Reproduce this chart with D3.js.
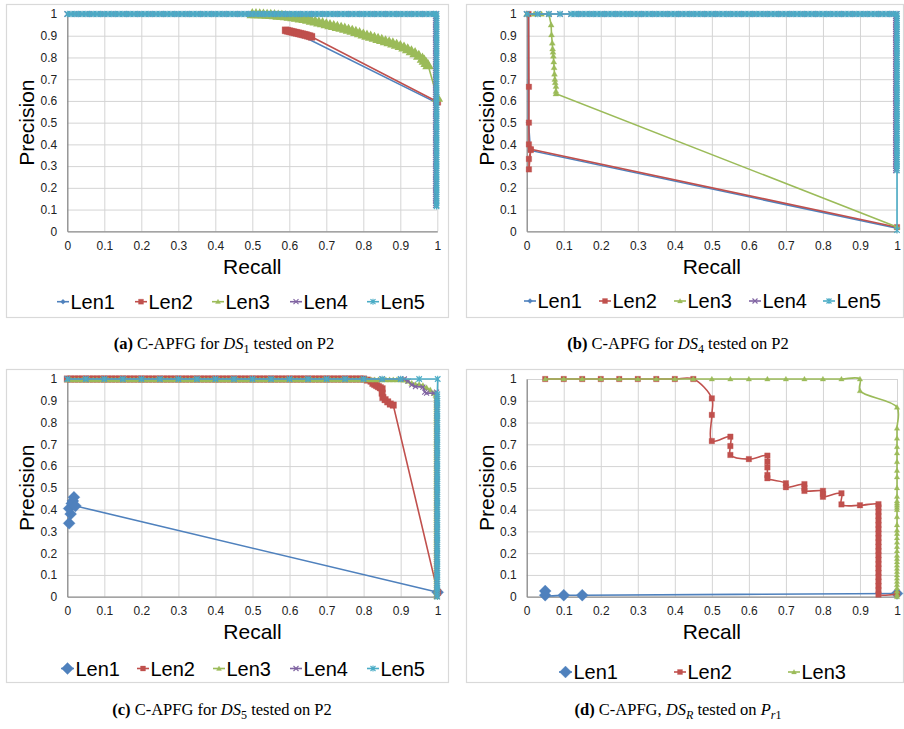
<!DOCTYPE html>
<html><head><meta charset="utf-8">
<script src="https://cdn.jsdelivr.net/npm/d3@7"></script>
<style>body{margin:0;background:#fff}svg{display:block}</style>
</head><body><svg id="c" width="904" height="729"></svg>
<script>
const seriesNames = ["Len1","Len2","Len3","Len4","Len5"];
const seriesColors = ["#4F81BD","#C0504D","#9BBB59","#8064A2","#4BACC6"];
const seriesMarkers = ["diamond","square","triangle","x","star"];
const axisTicks = [0,0.1,0.2,0.3,0.4,0.5,0.6,0.7,0.8,0.9,1];
const tickLabels = ["0","0.1","0.2","0.3","0.4","0.5","0.6","0.7","0.8","0.9","1"];

// recall positions of the dense marker rows at precision ~1
const rowRecall = [0,0.01,0.02,0.03,0.04,0.05,0.06,0.07,0.08,0.09,0.1,0.11,0.12,0.13,0.14,0.15,0.16,0.17,0.18,0.19,0.2,0.21,0.22,0.23,0.24,0.25,0.26,0.27,0.28,0.29,0.3,0.31,0.32,0.33,0.34,0.35,0.36,0.37,0.38,0.39,0.4,0.41,0.42,0.43,0.44,0.45,0.46,0.47,0.48,0.49,0.5,0.51,0.52,0.53,0.54,0.55,0.56,0.57,0.58,0.59,0.6,0.61,0.62,0.63,0.64,0.65,0.66,0.67,0.68,0.69,0.7,0.71,0.72,0.73,0.74,0.75,0.76,0.77,0.78,0.79,0.8,0.81,0.82,0.83,0.84,0.85,0.86,0.87,0.88,0.89,0.9,0.91,0.92,0.93,0.94,0.95,0.96,0.97,0.98,0.99];
// sparser row used where only a few markers show along the top
const rowRecallSparse = [0,0.05,0.1,0.15,0.2,0.25,0.3,0.35,0.4,0.45,0.5,0.55,0.6,0.65,0.7,0.75,0.8,0.85,0.9,0.95];
// precision positions of the dense marker columns at recall ~1
const edgePrec = [1,0.99,0.98,0.97,0.96,0.95,0.94,0.93,0.92,0.91,0.9,0.89,0.88,0.87,0.86,0.85,0.84,0.83,0.82,0.81,0.8,0.79,0.78,0.77,0.76,0.75,0.74,0.73,0.72,0.71,0.7,0.69,0.68,0.67,0.66,0.65,0.64,0.63,0.62,0.61,0.6,0.59,0.58,0.57,0.56,0.55,0.54,0.53,0.52,0.51,0.5,0.49,0.48,0.47,0.46,0.45,0.44,0.43,0.42,0.41,0.4,0.39,0.38,0.37,0.36,0.35,0.34,0.33,0.32,0.31,0.3,0.29,0.28,0.27,0.26,0.25,0.24,0.23,0.22,0.21,0.2,0.19,0.18,0.17,0.16,0.15,0.14,0.13,0.12,0.11,0.1,0.09,0.08,0.07,0.06,0.05,0.04,0.03,0.02,0.01,0];

// ---- panel (a) DS1 on P2
const aLen1 = [[0.6,0.915],[0.62,0.906],[0.635,0.899],[1,0.59]];
const aLen2 = [[0.59,0.925],[0.595,0.923],[0.6,0.921],[0.605,0.919],[0.61,0.917],[0.615,0.915],[0.62,0.913],[0.625,0.911],[0.63,0.909],[0.635,0.907],[0.64,0.905],[0.645,0.903],[0.65,0.9],[0.655,0.898],[0.66,0.895],[1,0.596]];
const aLen3 = [[0.5,1],[0.51,0.9995],[0.52,0.999],[0.53,0.998],[0.54,0.997],[0.55,0.996],[0.56,0.995],[0.57,0.993],[0.58,0.992],[0.59,0.99],[0.6,0.988],[0.61,0.986],[0.62,0.983],[0.63,0.98],[0.64,0.977],[0.65,0.974],[0.66,0.97],[0.67,0.966],[0.68,0.962],[0.69,0.958],[0.7,0.953],[0.71,0.949],[0.72,0.945],[0.73,0.941],[0.74,0.937],[0.75,0.933],[0.76,0.928],[0.77,0.923],[0.78,0.918],[0.79,0.912],[0.8,0.906],[0.81,0.901],[0.82,0.896],[0.83,0.891],[0.84,0.886],[0.85,0.881],[0.86,0.875],[0.87,0.87],[0.88,0.865],[0.89,0.859],[0.9,0.853],[0.91,0.846],[0.92,0.838],[0.93,0.829],[0.94,0.82],[0.95,0.808],[0.96,0.795],[0.965,0.786],[0.97,0.775],[0.975,0.765],[1,0.615]];
const aEdgeEnd = [[0.998,0.115]];

// ---- panel (b) DS4 on P2
const bLen1 = [[0.005,1],[0.005,0.5],[0.01,0.372],[1,0.014]];
const bLen2 = [[0.005,1],[0.006,0.665],[0.006,0.5],[0.006,0.4],[0.011,0.374],[0.006,0.333],[0.006,0.285],[0.011,0.378],[1,0.019]];
const bLen3 = [[0,1],[0.02,1],[0.04,1],[0.06,1],[0.066,0.95],[0.067,0.905],[0.069,0.867],[0.07,0.84],[0.071,0.825],[0.072,0.807],[0.073,0.78],[0.074,0.754],[0.075,0.724],[0.076,0.7],[0.077,0.685],[0.079,0.667],[0.079,0.645],[0.079,0.633],[1,0.02]];
const bRowStart = [[0,1],[0.03,1],[0.06,1],[0.09,1]];
const bEdgeEnd = [[1,0.005]];

// ---- panel (c) DS5 on P2
const cLen1 = [[0.005,0.337],[0.009,0.38],[0.005,0.405],[0.012,0.428],[0.015,0.44],[0.018,0.457],[0.022,0.417],[1,0.02]];
const cLen2Tail = [[0.81,0.995],[0.82,0.99],[0.825,0.98],[0.83,0.975],[0.835,0.97],[0.84,0.965],[0.845,0.96],[0.85,0.955],[0.85,0.935],[0.852,0.915],[0.858,0.905],[0.865,0.895],[0.872,0.885],[0.88,0.88],[1,0.02]];
const cLen3Tail = [[0.91,0.995],[0.92,0.99],[0.93,0.98],[0.94,0.975],[0.95,0.975],[0.96,0.97],[0.97,0.96],[0.98,0.95],[0.99,0.935],[0.995,0.925]];
const cLen4Tail = [[0.91,1],[0.92,0.99],[0.93,0.973],[0.94,0.965],[0.96,0.963],[0.965,0.94],[0.97,0.935],[0.99,0.935],[0.997,0.94]];
const cLen5Corner = [[1,1]];

// ---- panel (d) DS_R on P_r1
const dLen1 = [[0.05,0.026],[0.05,0.007],[0.1,0.007],[0.15,0.007],[1,0.015]];
const dLen2 = [[0.05,1],[0.1,1],[0.15,1],[0.2,1],[0.25,1],[0.3,1],[0.35,1],[0.4,1],[0.45,1],[0.5,0.911],[0.5,0.835],[0.5,0.715],[0.55,0.735],[0.55,0.692],[0.55,0.651],[0.6,0.632],[0.65,0.648],[0.65,0.62],[0.65,0.594],[0.65,0.559],[0.65,0.544],[0.7,0.521],[0.7,0.503],[0.75,0.517],[0.75,0.5],[0.75,0.486],[0.8,0.486],[0.8,0.472],[0.8,0.459],[0.85,0.475],[0.85,0.424],[0.9,0.42],[0.95,0.425],
  [0.95,0.41],[0.95,0.39],[0.95,0.37],[0.95,0.35],[0.95,0.33],[0.95,0.31],[0.95,0.29],[0.95,0.27],[0.95,0.25],[0.95,0.23],[0.95,0.21],[0.95,0.19],[0.95,0.17],[0.95,0.15],[0.95,0.13],[0.95,0.11],[0.95,0.09],[0.95,0.07],[0.95,0.05],[0.95,0.03],[0.95,0.01],[1,0.013]];
const dLen3 = [[0.05,1],[0.1,1],[0.15,1],[0.2,1],[0.25,1],[0.3,1],[0.35,1],[0.4,1],[0.45,1],[0.5,1],[0.55,1],[0.6,1],[0.65,1],[0.7,1],[0.75,1],[0.8,1],[0.85,1],[0.9,1],[0.9,0.946],[1,0.87],
  [1,0.774],[1,0.728],[1,0.689],[1,0.66],[1,0.62],[1,0.58],[1,0.55],[1,0.5],[1,0.46],[1,0.44],[1,0.43],[1,0.42],[1,0.41],[1,0.4],[1,0.367],[1,0.33],[1,0.306],[1,0.29],[1,0.27],[1,0.25],[1,0.23],[1,0.21],[1,0.19],[1,0.175],[1,0.16],[1,0.145],[1,0.13],[1,0.115],[1,0.1],[1,0.085],[1,0.07],[1,0.055],[1,0.04],[1,0.025],[1,0.01],[1,0]];

const atPrec = (rs, p) => rs.map(r => [r, p]);
const atRecall = (r, ps) => ps.map(p => [r, p]);

const svg = d3.select("#c");

function markerPath(type, s) {
  const r = s / 2;
  switch (type) {
    case "diamond": return `M0,${-r}L${r},0L0,${r}L${-r},0Z`;
    case "square": return `M${-r},${-r}h${s}v${s}h${-s}Z`;
    case "triangle": return `M0,${-r}L${r},${r * 0.75}L${-r},${r * 0.75}Z`;
    case "x": return `M${-r},${-r}L${r},${r}M${-r},${r}L${r},${-r}`;
    default: return `M${-r},${-r}L${r},${r}M${-r},${r}L${r},${-r}M0,${-r * 1.2}L0,${r * 1.2}`;
  }
}
const filled = t => t === "diamond" || t === "square" || t === "triangle";

function drawPanel(p) {
  const g = svg.append("g");
  g.append("rect").attr("x", p.box[0] + 0.5).attr("y", p.box[1] + 0.5)
    .attr("width", p.box[2] - p.box[0]).attr("height", p.box[3] - p.box[1])
    .attr("fill", "#fff").attr("stroke", "#D9D9D9").attr("stroke-width", 1.2);
  const x = d3.scaleLinear().domain([0, 1]).range([p.plot[0], p.plot[2]]);
  const y = d3.scaleLinear().domain([0, 1]).range([p.plot[3], p.plot[1]]);
  const W = p.plot[2] - p.plot[0], H = p.plot[3] - p.plot[1];
  g.append("g").attr("transform", `translate(0,${p.plot[3]})`)
    .call(d3.axisBottom(x).tickValues(axisTicks.slice(1)).tickSize(-H).tickFormat(""))
    .call(s => { s.select(".domain").remove(); s.selectAll("line").attr("stroke", "#D4D4D4"); });
  g.append("g").attr("transform", `translate(${p.plot[0]},0)`)
    .call(d3.axisLeft(y).tickValues(axisTicks.slice(1)).tickSize(-W).tickFormat(""))
    .call(s => { s.select(".domain").remove(); s.selectAll("line").attr("stroke", "#D4D4D4"); });
  const styleAxis = s => {
    s.select(".domain").attr("stroke", "#868686").attr("stroke-width", 1.3);
    s.selectAll("text").style("font-family", "'Liberation Sans', Arial, sans-serif").style("font-size", "12px").attr("fill", "#222");
  };
  g.append("g").attr("transform", `translate(0,${p.plot[3]})`)
    .call(d3.axisBottom(x).tickValues(axisTicks).tickFormat((d, i) => tickLabels[i]).tickSize(0).tickPadding(10).tickSizeOuter(0))
    .call(styleAxis);
  g.append("g").attr("transform", `translate(${p.plot[0]},0)`)
    .call(d3.axisLeft(y).tickValues(axisTicks).tickFormat((d, i) => tickLabels[i]).tickSize(0).tickPadding(10).tickSizeOuter(0))
    .call(styleAxis);
  g.append("text").attr("x", (p.plot[0] + p.plot[2]) / 2).attr("y", p.plot[3] + 42.5)
    .attr("text-anchor", "middle").style("font-family", "'Liberation Sans', Arial, sans-serif").style("font-size", "21px").text("Recall");
  g.append("text").attr("transform", `translate(${p.plot[0] - 33},${(p.plot[1] + p.plot[3]) / 2}) rotate(-90)`)
    .attr("text-anchor", "middle").style("font-family", "'Liberation Sans', Arial, sans-serif").style("font-size", "21px").text("Precision");
  const line = d3.line().x(d => x(d[0])).y(d => y(d[1])).curve(p.curve);
  p.series.forEach(s => {
    const i = seriesNames.indexOf(s.name);
    const col = seriesColors[i], mk = seriesMarkers[i];
    g.append("path").attr("d", line(s.data)).attr("fill", "none").attr("stroke", col).attr("stroke-width", 1.6);
    g.append("g").selectAll("path").data(s.data).join("path")
      .attr("transform", d => `translate(${x(d[0])},${y(d[1])})`)
      .attr("d", markerPath(mk, s.ms))
      .attr("fill", filled(mk) ? col : "none")
      .attr("stroke", col).attr("stroke-width", filled(mk) ? (s.msw || 0.3) : 1.1);
  });
  p.legendX.forEach((lx, k) => {
    const s = p.series[k];
    const i = seriesNames.indexOf(s.name);
    const col = seriesColors[i], mk = seriesMarkers[i];
    const lg = g.append("g");
    const w = s.legendW || 12;
    lg.append("line").attr("x1", lx).attr("x2", lx + w).attr("y1", p.legendY).attr("y2", p.legendY).attr("stroke", col).attr("stroke-width", 1.6);
    lg.append("path").attr("transform", `translate(${lx + w / 2},${p.legendY})`).attr("d", markerPath(mk, s.lms || 5))
      .attr("fill", filled(mk) ? col : "none").attr("stroke", col).attr("stroke-width", filled(mk) ? 0.3 : 1.1);
    lg.append("text").attr("x", lx + w + 1.5).attr("y", p.legendY + 7.3)
      .style("font-family", "'Liberation Sans', Arial, sans-serif").style("font-size", "20px").text(s.name);
  });
  const t = svg.append("text").attr("x", p.caption.cx).attr("y", p.caption.y).attr("text-anchor", "middle")
    .style("font-family", "'Liberation Serif', 'Times New Roman', serif").style("font-size", "16.5px");
  let sub = false;
  p.caption.parts.forEach(q => {
    const ts = t.append("tspan").text(q.t);
    if (q.b) ts.style("font-weight", "bold");
    if (q.i) ts.style("font-style", "italic");
    if (q.sub && !sub) { ts.attr("dy", 4); sub = true; }
    else if (!q.sub && sub) { ts.attr("dy", -4); sub = false; }
    if (q.sub) ts.style("font-size", "12px");
  });
}

const panels = [
  { box: [6, 4, 448, 317], plot: [67.3, 14, 437.3, 231.3], curve: d3.curveLinear, legendY: 301.7,
    legendX: [57, 135, 212, 290, 367],
    series: [
      { name: "Len1", data: aLen1, ms: 5 },
      { name: "Len2", data: aLen2, ms: 7 },
      { name: "Len3", data: aLen3, ms: 9, msw: 1.5 },
      { name: "Len4", data: atPrec(rowRecall, 1).concat(atRecall(0.996, edgePrec.filter(p => p >= 0.12))), ms: 5.5 },
      { name: "Len5", data: atPrec(rowRecall, 1).concat(atRecall(0.998, edgePrec.filter(p => p >= 0.12)), aEdgeEnd), ms: 5.5 }
    ],
    caption: { cx: 224, y: 349, parts: [{ t: "(a)", b: true }, { t: " C-APFG for " }, { t: "DS", i: true }, { t: "1", sub: true }, { t: " tested on P2" }] } },
  { box: [466, 4, 903, 317], plot: [526.7, 14, 897, 231.3], curve: d3.curveLinear, legendY: 301,
    legendX: [524, 599, 674, 749, 823],
    series: [
      { name: "Len1", data: bLen1, ms: 5 },
      { name: "Len2", data: bLen2, ms: 5.5 },
      { name: "Len3", data: bLen3, ms: 6 },
      { name: "Len4", data: bRowStart.concat(atPrec(rowRecall.filter(r => r >= 0.12), 1), atRecall(0.997, edgePrec.filter(p => p >= 0.28))), ms: 5.5 },
      { name: "Len5", data: bRowStart.concat(atPrec(rowRecall.filter(r => r >= 0.12), 1), atRecall(1, edgePrec.filter(p => p >= 0.28)), bEdgeEnd), ms: 5.5 }
    ],
    caption: { cx: 678, y: 349, parts: [{ t: "(b)", b: true }, { t: " C-APFG for " }, { t: "DS", i: true }, { t: "4", sub: true }, { t: " tested on P2" }] } },
  { box: [6, 369, 448, 682], plot: [67.3, 379, 437.7, 596.7], curve: d3.curveLinear, legendY: 668.5,
    legendX: [61, 137, 213, 290, 367],
    series: [
      { name: "Len1", data: cLen1, ms: 12, lms: 12, legendW: 13 },
      { name: "Len2", data: atPrec(rowRecall.filter(r => r <= 0.8), 1).concat(cLen2Tail), ms: 6.5 },
      { name: "Len3", data: atPrec(rowRecall.filter(r => r <= 0.9), 0.996).concat(cLen3Tail, atRecall(0.997, edgePrec.filter(p => p <= 0.92))), ms: 6 },
      { name: "Len4", data: atPrec(rowRecallSparse.filter(r => r <= 0.9), 1).concat(cLen4Tail, atRecall(0.998, edgePrec.filter(p => p <= 0.92))), ms: 5 },
      { name: "Len5", data: atPrec(rowRecallSparse, 1).concat(cLen5Corner, atRecall(0.999, edgePrec.filter(p => p <= 0.93))), ms: 5.5 }
    ],
    caption: { cx: 222, y: 715, parts: [{ t: "(c)", b: true }, { t: " C-APFG for " }, { t: "DS", i: true }, { t: "5", sub: true }, { t: " tested on P2" }] } },
  { box: [466, 369, 903, 682], plot: [526.7, 379, 897, 596.7], curve: d3.curveCatmullRom.alpha(0.5), legendY: 672,
    legendX: [559, 674, 788],
    series: [
      { name: "Len1", data: dLen1, ms: 12, lms: 12, legendW: 13 },
      { name: "Len2", data: dLen2, ms: 5.5 },
      { name: "Len3", data: dLen3, ms: 5.5 }
    ],
    caption: { cx: 678, y: 715, parts: [{ t: "(d)", b: true }, { t: " C-APFG, " }, { t: "DS", i: true }, { t: "R", sub: true, i: true }, { t: " tested on " }, { t: "P", i: true }, { t: "r", sub: true, i: true }, { t: "1", sub: true }] } }
];

panels.forEach(drawPanel);
</script>
</body></html>
